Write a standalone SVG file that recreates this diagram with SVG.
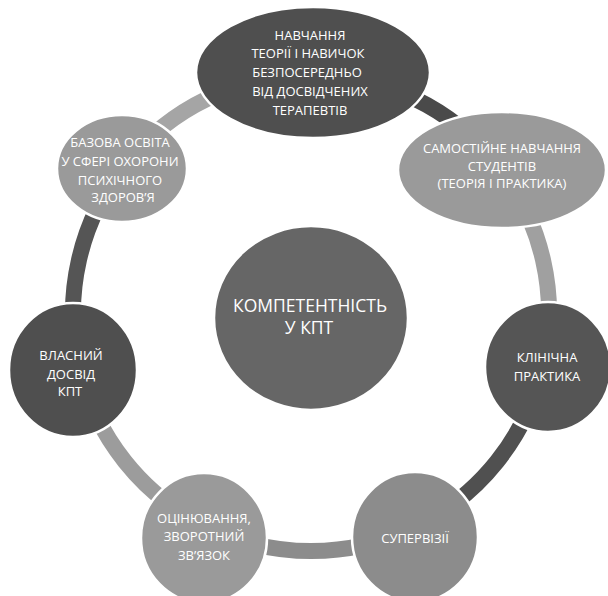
<svg xmlns="http://www.w3.org/2000/svg" width="608" height="596" viewBox="0 0 608 596">
<style>
.node{stroke:#ffffff;stroke-width:2.5}
.lbl{fill:#ffffff;font-family:"Open Sans","Noto Sans","DejaVu Sans",sans-serif;font-size:13px;text-anchor:middle}
.big{font-size:17.5px}
.arc{fill:none;stroke-width:16;stroke-linecap:butt}
.dark{fill:#4f4f4f}
.mid{fill:#666666}
.light{fill:#9a9a9a}
.med{fill:#8c8c8c}
</style>
<rect width="608" height="596" fill="#ffffff"/>
<g id="connectors">
<path class="arc" stroke="#4a4a4a" d="M311,75 A238,238 0 0 1 497.08,164.61"/>
<path class="arc" stroke="#a0a0a0" d="M497.08,164.61 A238,238 0 0 1 543.03,365.96"/>
<path class="arc" stroke="#505050" d="M543.03,365.96 A238,238 0 0 1 414.26,527.43"/>
<path class="arc" stroke="#8c8c8c" d="M414.26,527.43 A238,238 0 0 1 207.74,527.43"/>
<path class="arc" stroke="#9c9c9c" d="M207.74,527.43 A238,238 0 0 1 78.97,365.96"/>
<path class="arc" stroke="#555555" d="M78.97,365.96 A238,238 0 0 1 124.92,164.61"/>
<path class="arc" stroke="#a5a5a5" d="M124.92,164.61 A238,238 0 0 1 311,75"/>
</g>
<g id="center">
<ellipse class="node mid" cx="311" cy="318" rx="97" ry="92"/>
<text class="lbl big" x="310" y="312.3">КОМПЕТЕНТНІСТЬ</text>
<text class="lbl big" x="309" y="334.3">У КПТ</text>
</g>
<g id="n-top">
<ellipse class="node dark" cx="313" cy="72.5" rx="117" ry="65.5"/>
<text class="lbl" x="310" y="39.6">НАВЧАННЯ</text>
<text class="lbl" x="308" y="58">ТЕОРІЇ І НАВИЧОК</text>
<text class="lbl" x="307" y="77.3">БЕЗПОСЕРЕДНЬО</text>
<text class="lbl" x="310" y="95.5">ВІД ДОСВІДЧЕНИХ</text>
<text class="lbl" x="310" y="114.6">ТЕРАПЕВТІВ</text>
</g>
<g id="n-self">
<ellipse class="node light" cx="502" cy="170" rx="104" ry="58"/>
<text class="lbl" x="502" y="152.9">САМОСТІЙНЕ НАВЧАННЯ</text>
<text class="lbl" x="502" y="170.6">СТУДЕНТІВ</text>
<text class="lbl" x="502" y="188">(ТЕОРІЯ І ПРАКТИКА)</text>
</g>
<g id="n-clinic">
<ellipse class="node" fill="#555555" cx="548" cy="367" rx="63" ry="65"/>
<text class="lbl" x="547" y="361.6">КЛІНІЧНА</text>
<text class="lbl" x="547" y="380.6">ПРАКТИКА</text>
</g>
<g id="n-super">
<ellipse class="node med" cx="415" cy="537" rx="63" ry="65"/>
<text class="lbl" x="415" y="542.6">СУПЕРВІЗІЇ</text>
</g>
<g id="n-eval">
<ellipse class="node light" cx="204" cy="538" rx="63" ry="65"/>
<text class="lbl" x="204" y="522.9">ОЦІНЮВАННЯ,</text>
<text class="lbl" x="204" y="541.3">ЗВОРОТНИЙ</text>
<text class="lbl" x="204" y="559.6">ЗВ’ЯЗОК</text>
</g>
<g id="n-own">
<ellipse class="node dark" cx="73" cy="370" rx="64" ry="67"/>
<text class="lbl" x="71" y="359.6">ВЛАСНИЙ</text>
<text class="lbl" x="71" y="378.6">ДОСВІД</text>
<text class="lbl" x="70" y="396.3">КПТ</text>
</g>
<g id="n-basic">
<ellipse class="node light" cx="122" cy="168.5" rx="65" ry="53.5"/>
<text class="lbl" x="120" y="147.3">БАЗОВА ОСВІТА</text>
<text class="lbl" x="120" y="166.3">У СФЕРІ ОХОРОНИ</text>
<text class="lbl" x="120" y="184.6">ПСИХІЧНОГО</text>
<text class="lbl" x="123" y="202.3">ЗДОРОВ’Я</text>
</g>
</svg>
